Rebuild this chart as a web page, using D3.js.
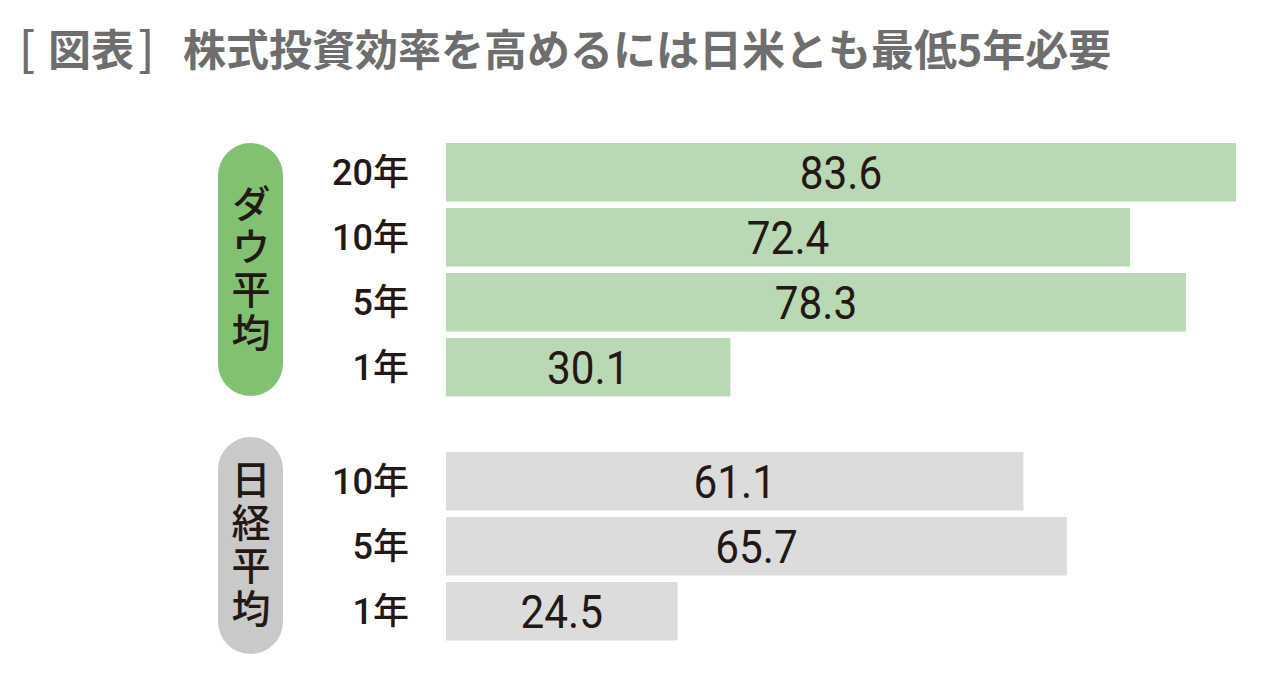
<!DOCTYPE html>
<html lang="ja">
<head>
<meta charset="utf-8">
<title>株式投資効率</title>
<script src="https://d3js.org/d3.v7.min.js"></script>
<style>
  body { margin: 0; background: #fff; }
  svg { display: block; }
  .title { font-family: "Noto Sans CJK JP", sans-serif; font-weight: 700; fill: #6e6e6e; }
  .cat { font-family: Roboto, "Noto Sans CJK JP", sans-serif; font-weight: 500; fill: #231815; }
  .val { font-family: Roboto, sans-serif; fill: #231815; }
  .pilltext { font-family: "Noto Sans CJK JP", sans-serif; font-weight: 500; fill: #231815; }
</style>
</head>
<body>
<div id="chart"></div>
<script>
// data
var titleParts = ["[", "図表", "]", "株式投資効率を高めるには日米とも最低5年必要"];
var dowCats = ["20年", "10年", "5年", "1年"];
var dowValues = [83.6, 72.4, 78.3, 30.1];
var nikkeiCats = ["10年", "5年", "1年"];
var nikkeiValues = [61.1, 65.7, 24.5];
var groupNames = ["ダウ平均", "日経平均"];

var w = 1278, h = 687;
var svg = d3.select("#chart").append("svg").attr("width", w).attr("height", h);

// title pieces
var titleX = [19, 48, 138, 183];
svg.selectAll("text.title").data(titleParts).enter().append("text")
  .attr("class", "title")
  .attr("x", function(d, i) { return titleX[i]; })
  .attr("y", 66)
  .style("font-size", function(d, i) { return (i === 0 || i === 2) ? "46px" : "43px"; })
  .style("font-weight", function(d, i) { return (i === 0 || i === 2) ? 500 : 700; })
  .text(function(d) { return d; });

var x0 = 446;
var x = d3.scaleLinear().domain([0, 83.6]).range([0, 790]);
var step = 65;

var groups = [
  { name: groupNames[0], cats: dowCats, vals: dowValues, top: 143, fill: "#b8d9b3", pill: "#80c172", pillTop: 143, pillBottom: 396 },
  { name: groupNames[1], cats: nikkeiCats, vals: nikkeiValues, top: 452, fill: "#dcdcdc", pill: "#c9c9c9", pillTop: 437, pillBottom: 654 }
];

groups.forEach(function(g) {
  var n = g.cats.length;
  var y = d3.scaleBand().domain(g.cats)
    .range([g.top, g.top + n * step - step * 0.1])
    .paddingInner(0.1).paddingOuter(0);
  var rows = g.cats.map(function(c, i) { return { cat: c, v: g.vals[i] }; });
  var gg = svg.append("g");

  // pill
  gg.append("rect")
    .attr("x", 218).attr("y", g.pillTop)
    .attr("width", 65).attr("height", g.pillBottom - g.pillTop)
    .attr("rx", 32.5).attr("ry", 32.5)
    .attr("fill", g.pill);
  var pc = (g.pillTop + g.pillBottom) / 2;
  gg.append("text")
    .attr("class", "pilltext")
    .attr("x", 251).attr("y", pc)
    .attr("text-anchor", "middle")
    .style("writing-mode", "vertical-rl")
    .style("font-size", "39px")
    .style("letter-spacing", "4px")
    .text(g.name);

  // bars
  gg.selectAll("rect.bar").data(rows).enter().append("rect")
    .attr("class", "bar")
    .attr("x", x0)
    .attr("y", function(d) { return y(d.cat); })
    .attr("width", function(d) { return x(d.v); })
    .attr("height", y.bandwidth())
    .attr("fill", g.fill);

  // category labels
  gg.selectAll("text.cat").data(rows).enter().append("text")
    .attr("class", "cat")
    .attr("x", 409)
    .attr("y", function(d) { return y(d.cat) + y.bandwidth() / 2 + 13; })
    .attr("text-anchor", "end")
    .style("font-size", "36px")
    .text(function(d) { return d.cat; });

  // values
  gg.selectAll("text.val").data(rows).enter().append("text")
    .attr("class", "val")
    .attr("text-anchor", "middle")
    .attr("transform", function(d) {
      var cx = x0 + x(d.v) / 2, cy = y(d.cat) + y.bandwidth() / 2 + 17;
      return "translate(" + cx + "," + cy + ") scale(0.9,1)";
    })
    .style("font-size", "47px")
    .text(function(d) { return d.v.toFixed(1); });
});
</script>
</body>
</html>
